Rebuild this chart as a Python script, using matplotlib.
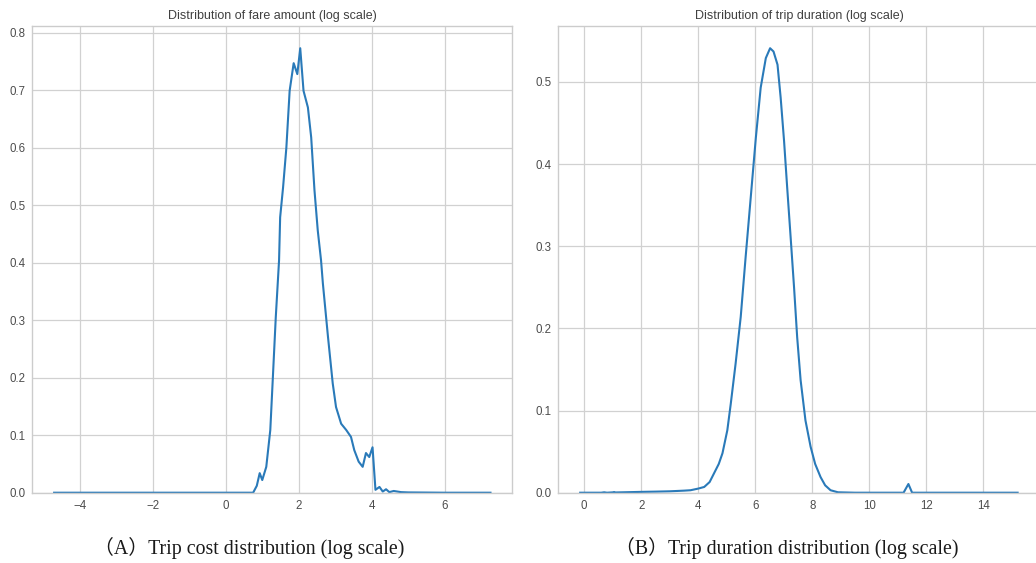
import matplotlib
matplotlib.use("Agg")
import matplotlib.pyplot as plt

# ---- data ----
fare_x = [-4.7, 0.0, 0.75, 0.85, 0.93, 1.0, 1.11, 1.22, 1.29, 1.37, 1.46, 1.49,
          1.57, 1.66, 1.75, 1.86, 1.96, 2.04, 2.13, 2.25, 2.34, 2.43, 2.52, 2.61,
          2.66, 2.80, 2.93, 3.02, 3.16, 3.30, 3.43, 3.52, 3.64, 3.75, 3.84, 3.93,
          4.02, 4.10, 4.21, 4.30, 4.39, 4.48, 4.6, 4.8, 5.0, 6.0, 7.25]
fare_y = [0, 0, 0, 0.012, 0.034, 0.022, 0.045, 0.109, 0.20, 0.305, 0.404, 0.479,
          0.531, 0.60, 0.699, 0.747, 0.728, 0.773, 0.699, 0.670, 0.618, 0.526, 0.456, 0.404,
          0.364, 0.271, 0.19, 0.149, 0.12, 0.109, 0.097, 0.074, 0.054, 0.045, 0.069, 0.062,
          0.079, 0.005, 0.01, 0.002, 0.006, 0.001, 0.003, 0.001, 0.0005, 0, 0]

dur_x = [-0.14, 0.6, 0.7, 0.8, 1.0, 1.05, 1.1, 1.5, 2.0, 2.5, 3.0, 3.5, 3.73, 4.0,
         4.21, 4.4, 4.56, 4.72, 4.85, 5.02, 5.14, 5.31, 5.49, 5.66, 5.84, 6.02, 6.19,
         6.37, 6.52, 6.64, 6.78, 6.89, 7.01, 7.12, 7.24, 7.36, 7.47, 7.59, 7.76, 7.94,
         8.1, 8.29, 8.45, 8.64, 8.9, 9.5, 11.2, 11.37, 11.5, 15.2]
dur_y = [0, 0, 0.0005, 0, 0.0004, 0.0008, 0.0003, 0.0006, 0.001, 0.0013, 0.0017, 0.0025, 0.003, 0.005,
         0.007, 0.013, 0.024, 0.035, 0.048, 0.076, 0.108, 0.157, 0.214, 0.286, 0.359, 0.432, 0.493,
         0.529, 0.541, 0.537, 0.521, 0.481, 0.428, 0.371, 0.311, 0.25, 0.189, 0.137, 0.088, 0.056,
         0.035, 0.019, 0.009, 0.003, 0.0005, 0, 0, 0.0106, 0, 0]

titles = ["Distribution of fare amount (log scale)",
          "Distribution of trip duration (log scale)"]
captions = ["\uff08A\uff09Trip cost distribution (log scale)",
            "\uff08B\uff09Trip duration distribution (log scale)"]

# ---- style ----
plt.rcParams['font.family'] = ['Liberation Sans', 'DejaVu Sans']
W, H = 1036, 563
fig = plt.figure(figsize=(W / 100, H / 100), dpi=100)

def px_axes(left, top, right, bottom):
    return fig.add_axes([left / W, 1 - bottom / H, (right - left) / W, (bottom - top) / H])

ax1 = px_axes(32.3, 26, 512.3, 492.7)
ax2 = px_axes(558.3, 26, 1039.5, 492.7)

line_color = '#2a7ab9'
for ax, xs, ys, t in [(ax1, fare_x, fare_y, titles[0]), (ax2, dur_x, dur_y, titles[1])]:
    ax.set_facecolor('white')
    ax.plot(xs, ys, color=line_color, lw=1.5)
    ax.set_ylim(bottom=0)
    ax.grid(True, color='0.82', lw=0.9)
    ax.set_axisbelow(True)
    for s in ax.spines.values():
        s.set_color('0.8')
        s.set_linewidth(1.0)
    ax.tick_params(length=0, labelsize=8.3, colors='0.3', pad=5)
    ax.set_title(t, fontsize=9, color='0.25', pad=5)

cap_font = ['Liberation Serif', 'Noto Sans CJK SC']
fig.text(249 / W, 1 - 548 / H, captions[0], ha='center', va='center',
         fontsize=14.3, family=cap_font, color='0.1')
fig.text(787 / W, 1 - 548 / H, captions[1], ha='center', va='center',
         fontsize=14.3, family=cap_font, color='0.1')

fig.savefig('out.png', dpi=100, facecolor='white')
